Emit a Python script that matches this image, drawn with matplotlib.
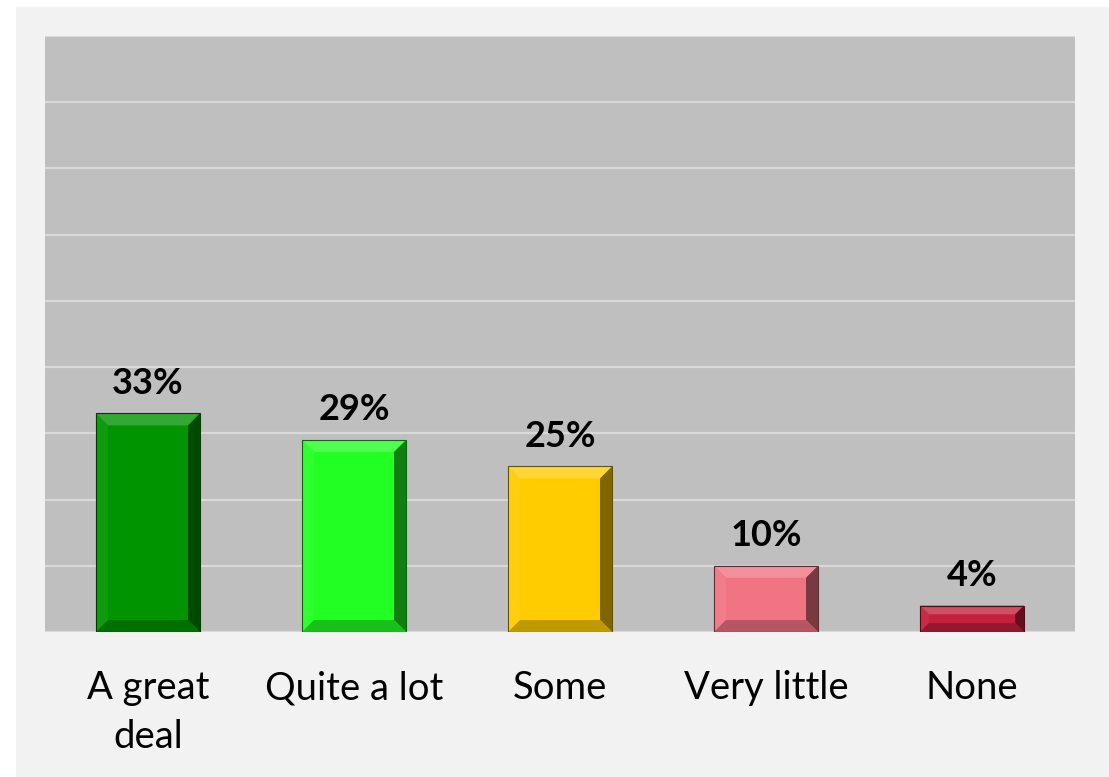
import matplotlib.pyplot as plt
from matplotlib.patches import Polygon, Rectangle
import matplotlib.colors as mcolors
import numpy as np

categories = ["A great\ndeal", "Quite a lot", "Some", "Very little", "None"]
values = [33, 29, 25, 10, 4]
colors = ["#009400", "#22ff22", "#ffcc00", "#f07482", "#c4203c"]

plt.rcParams['font.family'] = ['Lato', 'DejaVu Sans']

W, H = 1109, 777
fig = plt.figure(figsize=(W / 100, H / 100), dpi=100)
fig.patch.set_facecolor("white")
# outer light panel
fig.patches.append(Rectangle((16 / W, 0), 1 - 16 / W, 1 - 7 / H, transform=fig.transFigure,
                             facecolor="#f2f2f2", edgecolor="none", zorder=-5))

left, right, top, bottom = 45, 1075, 36, 632
ax = fig.add_axes([left / W, 1 - bottom / H, (right - left) / W, (bottom - top) / H])
ax.set_zorder(1)
ax.set_facecolor("#bfbfbf")
ax.set_xlim(-0.5, 4.5)
ax.set_ylim(0, 90)
ax.set_yticks(np.arange(0, 91, 10))
ax.yaxis.grid(True, color="#d9d9d9", linewidth=1.6)
ax.set_axisbelow(True)
for s in ax.spines.values():
    s.set_visible(False)
ax.tick_params(axis="y", left=False, labelleft=False)
ax.tick_params(axis="x", bottom=False, pad=24)

x = np.arange(len(values))
bw = 0.505
bars = ax.bar(x, values, width=bw, color=colors, edgecolor="none", zorder=3)

# bevel in pixel units
px_x = (right - left) / 5.0
px_y = (bottom - top) / 90.0


def shade(c, f):
    r = np.array(mcolors.to_rgb(c))
    if f > 0:
        r = r + (1 - r) * f
    else:
        r = r * (1 + f)
    return tuple(np.clip(r, 0, 1))


for xi, v, c in zip(x, values, colors):
    x0, x1 = xi - bw / 2, xi + bw / 2
    h_px = v * px_y
    b = min(12.0, h_px / 3.0)
    bx = b / px_x
    by = b / px_y
    ix0, ix1 = x0 + bx, x1 - bx
    iy0, iy1 = by, v - by
    faces = [
        ([(x0, v), (x1, v), (ix1, iy1), (ix0, iy1)], shade(c, 0.2)),    # top
        ([(x0, 0), (x0, v), (ix0, iy1), (ix0, iy0)], shade(c, 0.06)),  # left
        ([(x1, 0), (x1, v), (ix1, iy1), (ix1, iy0)], shade(c, -0.5)),  # right
        ([(x0, 0), (x1, 0), (ix1, iy0), (ix0, iy0)], shade(c, -0.25)), # bottom
    ]
    for pts, fc in faces:
        ax.add_patch(Polygon(pts, closed=True, facecolor=fc, edgecolor="none", zorder=4))
    ax.add_patch(Rectangle((x0, 0), bw, v, facecolor="none",
                           edgecolor=shade(c, -0.6), linewidth=0.8, zorder=5))
    ax.text(xi, v + 3.0, f"{v}%", ha="center", va="baseline", fontsize=26,
            fontweight="bold", color="black", zorder=6)

ax.axhline(0, color="#d9d9d9", linewidth=1.6, zorder=2)
ax.set_xticks(x)
ax.set_xticklabels(categories, fontsize=27.5, color="black", linespacing=1.45, va="top")

fig.savefig("out.png", dpi=100, facecolor=fig.get_facecolor())
